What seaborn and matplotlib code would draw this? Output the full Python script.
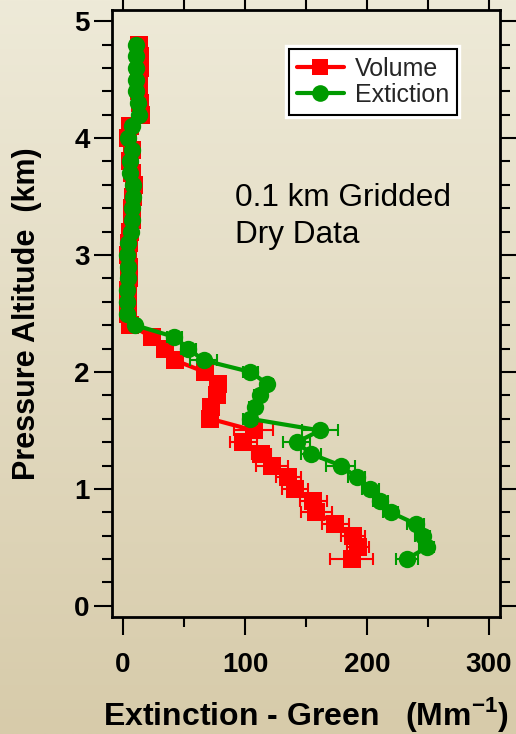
import numpy as np
import pandas as pd
import matplotlib
matplotlib.use("Agg")
import matplotlib.pyplot as plt
import matplotlib.patheffects as pe
from matplotlib.ticker import MultipleLocator
import seaborn as sns

# Vertical profile, 0.1 km gridded (km)
altitude = [0.4, 0.5, 0.6, 0.7, 0.8, 0.9, 1.0, 1.1, 1.2, 1.3, 1.4, 1.5, 1.6, 1.7, 1.8,
            1.9, 2.0, 2.1, 2.2, 2.3, 2.4, 2.5, 2.6, 2.7, 2.8, 2.9, 3.0, 3.1, 3.2, 3.3,
            3.4, 3.5, 3.6, 3.7, 3.8, 3.9, 4.0, 4.1, 4.2, 4.3, 4.4, 4.5, 4.6, 4.7, 4.8]

# Extinction derived from particle volume (Mm^-1)
volume_ext = [187.5, 192.5, 188.5, 174, 158.5, 156, 141, 135.5, 122, 113.5, 98.5, 107,
              71.5, 72.5, 77, 78, 67, 42.5, 34.5, 23.5, 6, 4, 4, 4, 5, 5, 4, 5, 6, 7,
              7, 8, 9, 7, 6, 7, 4, 6, 15, 14, 13, 13, 14, 14, 13]
volume_err = [17.5, 9, 10, 11, 13, 11, 11, 10, 13, 8, 11, 16, 4, 4, 4, 4, 4, 4, 4, 4,
              2, 2, 2, 2, 2, 2, 2, 2, 2, 2, 2, 2, 2, 2, 2, 2, 2, 2, 2, 2, 2, 2, 2, 2, 2]

# Measured extinction (Mm^-1)
measured_ext = [232.5, 249, 245.6, 240, 219.5, 211, 202.5, 191.5, 178.5, 154, 142.5, 161.5,
                104, 108, 112, 118, 104.5, 66, 53.5, 42, 10, 3, 3, 3, 4.5, 4.5, 3, 4.5,
                6.5, 7, 7, 8, 8, 6, 6, 7, 4, 7, 13, 12, 10.5, 10.5, 11, 11, 10.5]
measured_err = [9, 6, 6, 7, 6, 6, 7, 7, 12, 8, 11, 15, 6, 5, 5, 5, 6.5, 11, 6, 6,
                3, 2, 2, 2, 2, 2, 2, 2, 2, 2, 2, 2, 2, 2, 2, 2, 2, 2, 2, 2, 2, 2, 2, 2, 2]

series_names = ["Volume", "Extiction"]
x_ticks = [0, 100, 200, 300]
y_ticks = [0, 1, 2, 3, 4, 5]

RED = "#FF0000"
GREEN = "#009A00"

sns.set_theme(style="ticks")
plt.rcParams["font.family"] = ["Liberation Sans", "DejaVu Sans"]
plt.rcParams["mathtext.fontset"] = "custom"
plt.rcParams["mathtext.rm"] = "Liberation Sans"
plt.rcParams["mathtext.bf"] = "Liberation Sans:bold"

fig = plt.figure(figsize=(5.16, 7.34), dpi=100)

# Cream-to-tan gradient backdrop
bg = fig.add_axes([0, 0, 1, 1], zorder=-10)
top_c = np.array([238, 234, 216]) / 255
bot_c = np.array([215, 203, 170]) / 255
t = np.linspace(0, 1, 256)[:, None]
grad = (top_c[None, :] * (1 - t) + bot_c[None, :] * t)[:, None, :]
bg.imshow(grad, aspect="auto", extent=[0, 1, 0, 1])
bg.set_axis_off()

ax = fig.add_axes([112 / 516, 1 - 617 / 734, 388 / 516, 607 / 734])
ax.set_facecolor("none")

df = pd.DataFrame({
    "alt": altitude * 2,
    "ext": volume_ext + measured_ext,
    "err": volume_err + measured_err,
    "series": [series_names[0]] * len(altitude) + [series_names[1]] * len(altitude),
})

styles = {
    series_names[0]: dict(color=RED, marker="s", ms=12.5),
    series_names[1]: dict(color=GREEN, marker="o", ms=12.5),
}

for i, name in enumerate(series_names):
    sub = df[df["series"] == name]
    st = styles[name]
    sns.lineplot(data=sub, x="ext", y="alt", sort=False, estimator=None, ax=ax,
                 color=st["color"], linewidth=3, marker=st["marker"],
                 markersize=st["ms"], markeredgewidth=0, label=name,
                 zorder=3 + 2 * i)
    ax.errorbar(sub["ext"], sub["alt"], xerr=sub["err"], fmt="none",
                ecolor=st["color"], elinewidth=1.5, capsize=4.5, capthick=1.5,
                zorder=4 + 2 * i)

ax.set_xlim(-9, 309)
ax.set_ylim(-0.095, 5.095)
ax.set_xticks(x_ticks)
ax.set_yticks(y_ticks)
ax.xaxis.set_minor_locator(MultipleLocator(50))
ax.yaxis.set_minor_locator(MultipleLocator(0.2))

for side in ["left", "right", "top", "bottom"]:
    ax.spines[side].set_visible(True)
    ax.spines[side].set_linewidth(2)
    ax.spines[side].set_color("black")

ax.tick_params(which="both", direction="out", top=True, right=True,
               labeltop=False, labelright=False, color="black", width=1.5)
ax.tick_params(which="major", length=13)
ax.tick_params(which="minor", length=7)
ax.tick_params(axis="x", which="major", pad=12, labelsize=20)
ax.tick_params(axis="y", which="major", pad=3, labelsize=20)
for lab in ax.get_xticklabels() + ax.get_yticklabels():
    lab.set_fontweight("bold")
    lab.set_color("black")

ax.set_xlabel(r"Extinction - Green   (Mm$^{\mathbf{-1}}$)", fontsize=23,
              fontweight="bold", color="black", va="baseline")
ax.set_ylabel("Pressure Altitude  (km)", fontsize=22, fontweight="bold", color="black")
ax.xaxis.set_label_coords(0.5, (617 - 725) / 607)
ax.yaxis.set_label_coords(-0.18, 0.5)

# Annotation
fig.text(235 / 516, 1 - 206 / 734, "0.1 km Gridded", fontsize=22.7, color="black",
         va="baseline", ha="left")
fig.text(235 / 516, 1 - 243 / 734, "Dry Data", fontsize=22.7, color="black",
         va="baseline", ha="left")

leg = ax.legend(loc="upper right", bbox_to_anchor=(457 / 516, 1 - 49 / 734),
                bbox_transform=fig.transFigure, fontsize=18, frameon=True,
                fancybox=False, framealpha=1, edgecolor="black",
                handlelength=1.9, handletextpad=0.45, labelspacing=0.1,
                borderpad=0.3, borderaxespad=0)
frame = leg.get_frame()
frame.set_facecolor("white")
frame.set_linewidth(1.5)
frame.set_path_effects([pe.withStroke(linewidth=6, foreground="white")])
for h in leg.legend_handles:
    h.set_linewidth(3)
    h.set_markersize(12)
leg.set_zorder(10)

fig.savefig("out.png", dpi=100)
